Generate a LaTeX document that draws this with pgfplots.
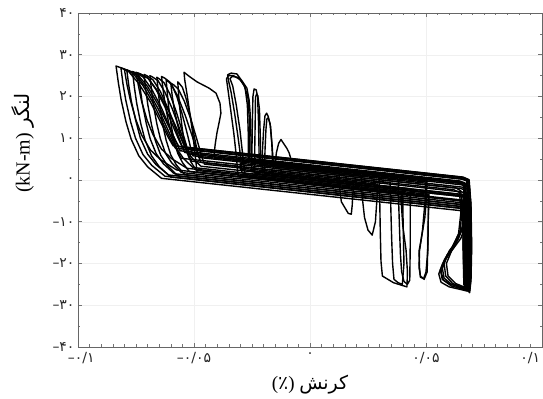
\documentclass[border=0pt]{standalone}
\usepackage{fontspec}
\setmainfont{Liberation Serif}
\newfontfamily\fa[Script=Arabic]{DejaVu Sans}
\newfontfamily\fadig{DejaVu Sans}
\TeXXeTstate=1
\usepackage{pgfplots}
\pgfplotsset{compat=1.18}

\begin{document}
\begin{tikzpicture}
\begin{axis}[
  scale only axis, width=464bp, height=334bp,
  xmin=-0.1, xmax=0.1, ymin=-40, ymax=40,
  xtick={-0.1,-0.05,0,0.05,0.1},
  xticklabels={{\makebox[0pt][l]{\hspace*{-10bp}–۰/۱}},–۰/۰۵,۰,۰/۰۵,{\makebox[0pt][r]{۰/۱\hspace{2bp}}}},
  ytick={-40,-30,...,40},
  yticklabels={–۴۰,–۳۰,–۲۰,–۱۰,۰,۱۰,۲۰,۳۰,۴۰},
  minor x tick num=9, minor y tick num=1,
  tick align=inside,
  major tick length=4bp, minor tick length=2.5bp,
  every tick/.style={black!55, line width=0.5bp},
  axis line style={black!60, line width=0.6bp},
  grid=major, major grid style={black!6, line width=0.4bp},
  ticklabel style={font=\fadig\fontsize{14}{14}\selectfont, text=black!85},
  xticklabel style={yshift=-2bp},
  xlabel={({\fa ٪}) {\fa\beginR کرنش\endR}},
  xlabel style={at={(axis description cs:0.5,-0.114)}, anchor=center, font=\fontsize{19}{19}\selectfont},
  ylabel={(kN-m) {\fa\beginR لنگر\endR}},
  ylabel style={at={(axis description cs:-0.118,0.61)}, anchor=center, font=\fontsize{20}{20}\selectfont},
  hy/.style={black, solid, mark=none, line width=1.4bp, line join=round, line cap=round},
]
\coordinate (bl) at (rel axis cs:0,0);
\coordinate (tr) at (rel axis cs:1,1);

% cycles peaking on the far left
\addplot[hy] coordinates {(-0.0640,0.4)(-0.0699,3.1)(-0.0738,5.8)(-0.0771,9.8)(-0.0793,13.9)(-0.0814,19.2)(-0.0826,23.3)(-0.0836,27.3)
(-0.0816,26.9)(-0.0782,26.0)(-0.0738,23.1)(-0.0688,18.7)(-0.0644,13.9)(-0.0610,10.1)(-0.0590,8.2)
(0.0660,0.70)(0.0684,0.1)(0.0692,-5)(0.0694,-15)(0.0692,-23)(0.0686,-26.8)(0.0676,-25.8)(0.0673,-18)(0.0672,-10)(0.0668,-7.45)
(-0.0640,0.4)};
\addplot[hy] coordinates {(-0.0625,0.9)(-0.0682,3.5)(-0.0720,6.1)(-0.0752,10.0)(-0.0773,13.9)(-0.0794,19.1)(-0.0806,23.0)(-0.0815,26.9)
(-0.0796,26.5)(-0.0763,25.5)(-0.0721,22.7)(-0.0674,18.2)(-0.0632,13.4)(-0.0599,9.5)(-0.0580,7.6)
(0.0655,0.19)(0.0678,-0.3)(0.0686,-6)(0.0688,-16)(0.0684,-24)(0.0678,-26.3)(0.0668,-25)(0.0665,-17)(0.0664,-9)(0.0660,-6.81)
(-0.0625,0.9)};
\addplot[hy] coordinates {(-0.0610,1.2)(-0.0664,3.7)(-0.0700,6.2)(-0.0731,10.0)(-0.0750,14.0)(-0.0770,18.8)(-0.0781,22.6)(-0.0790,26.4)
(-0.0772,26.0)(-0.0741,25.1)(-0.0700,22.4)(-0.0655,18.1)(-0.0615,13.5)(-0.0583,9.8)(-0.0565,8.0)
(0.0650,0.71)(0.0675,0.2)(0.0682,-5)(0.0683,-15)(0.0680,-23)(0.0674,-26.0)(0.0664,-24.5)(0.0660,-16)(0.0658,-8.5)(0.0654,-6.38)
(-0.0610,1.2)};
\addplot[hy] coordinates {(-0.0600,0.7)(-0.0650,3.2)(-0.0683,5.8)(-0.0711,9.6)(-0.0729,13.4)(-0.0747,18.4)(-0.0757,22.2)(-0.0765,26.0)
(-0.0749,25.6)(-0.0720,24.7)(-0.0683,21.8)(-0.0642,17.5)(-0.0605,12.7)(-0.0576,8.9)(-0.0560,7.0)
(0.0645,-0.23)(0.0668,-0.7)(0.0672,-4)(0.0665,-10)(0.0640,-14)(0.0600,-17)(0.0578,-20)(0.0585,-23)(0.0615,-24.8)(0.0665,-25.9)(0.0685,-26.2)(0.0688,-20)(0.0688,-10)(0.0684,-7.0)
(-0.0600,0.7)};
\addplot[hy] coordinates {(-0.0585,1.5)(-0.0632,3.9)(-0.0663,6.3)(-0.0689,9.9)(-0.0706,13.6)(-0.0723,18.4)(-0.0732,22.0)(-0.0740,25.6)
(-0.0725,25.2)(-0.0698,24.4)(-0.0664,21.7)(-0.0626,17.6)(-0.0592,13.1)(-0.0565,9.6)(-0.0550,7.8)
(0.0660,0.54)(0.0686,0.0)(0.0694,-6)(0.0697,-16)(0.0694,-24)(0.0688,-27.0)(0.0678,-25.8)(0.0675,-17)(0.0674,-9)(0.0670,-6.0)
(-0.0585,1.5)};
\addplot[hy] coordinates {(-0.0570,1.0)(-0.0614,3.4)(-0.0643,5.9)(-0.0667,9.5)(-0.0683,13.2)(-0.0699,18.0)(-0.0708,21.7)(-0.0715,25.3)
(-0.0701,24.9)(-0.0677,24.0)(-0.0645,21.2)(-0.0610,16.9)(-0.0579,12.2)(-0.0554,8.5)(-0.0540,6.6)
(0.0640,-0.48)(0.0664,-1.0)(0.0668,-4)(0.0660,-11)(0.0630,-15)(0.0590,-18)(0.0570,-21)(0.0578,-23.5)(0.0610,-25.0)(0.0660,-26.0)(0.0682,-26.5)(0.0684,-20)(0.0684,-10)(0.0680,-6.5)
(-0.0570,1.0)};
\addplot[hy] coordinates {(-0.0555,1.8)(-0.0596,4.1)(-0.0623,6.4)(-0.0645,9.9)(-0.0660,13.4)(-0.0675,18.0)(-0.0683,21.5)(-0.0690,25.0)
(-0.0677,24.6)(-0.0655,23.8)(-0.0626,21.1)(-0.0594,17.1)(-0.0565,12.7)(-0.0543,9.2)(-0.0530,7.4)
(0.0655,0.29)(0.0680,-0.2)(0.0688,-6)(0.0690,-16)(0.0687,-24)(0.0681,-26.6)(0.0671,-25.5)(0.0668,-17)(0.0667,-9)(0.0663,-5.51)
(-0.0555,1.8)};
\addplot[hy] coordinates {(-0.0540,1.3)(-0.0576,3.6)(-0.0600,6.0)(-0.0620,9.5)(-0.0634,13.0)(-0.0647,17.6)(-0.0654,21.1)(-0.0660,24.6)
(-0.0649,24.2)(-0.0629,23.3)(-0.0604,20.6)(-0.0576,16.3)(-0.0551,11.7)(-0.0531,8.0)(-0.0520,6.2)
(0.0640,-0.76)(0.0662,-1.3)(0.0665,-5)(0.0655,-12)(0.0622,-16)(0.0585,-19)(0.0565,-22)(0.0575,-24)(0.0610,-25.4)(0.0665,-26.2)(0.0680,-26.6)(0.0680,-18)(0.0678,-9)(0.0675,-6.0)
(-0.0540,1.3)};
\addplot[hy] coordinates {(-0.0520,2.0)(-0.0550,4.2)(-0.0570,6.4)(-0.0587,9.7)(-0.0598,13.0)(-0.0609,17.4)(-0.0615,20.7)(-0.0620,24.0)
(-0.0611,23.6)(-0.0595,22.7)(-0.0574,20.0)(-0.0551,15.8)(-0.0530,11.3)(-0.0514,7.6)(-0.0505,5.8)
(0.0655,-1.16)(0.0678,-1.7)(0.0685,-7)(0.0688,-16)(0.0686,-24)(0.0680,-26.2)(0.0672,-25)(0.0669,-17)(0.0668,-9)(0.0665,-5.11)
(-0.0520,2.0)};
\addplot[hy] coordinates {(-0.0490,2.3)(-0.0514,4.4)(-0.0530,6.5)(-0.0544,9.7)(-0.0552,12.9)(-0.0561,17.1)(-0.0566,20.3)(-0.0570,23.5)
(-0.0563,23.1)(-0.0550,22.2)(-0.0534,19.5)(-0.0516,15.4)(-0.0500,10.8)(-0.0487,7.2)(-0.0480,5.4)
(0.0500,-0.48)(0.0496,-5)(0.0485,-12)(0.0472,-17)(0.0470,-21)(0.0476,-23)(0.0492,-23.8)(0.0505,-22)(0.0508,-15)(0.0510,-8)(0.0512,-3.71)
(-0.0490,2.3)};
\addplot[hy] coordinates {(-0.0575,2.4)(-0.0643,4.8)(-0.0688,7.2)(-0.0726,10.8)(-0.0751,14.5)(-0.0775,19.3)(-0.0789,22.9)(-0.0800,26.5)
(-0.0780,26.1)(-0.0746,25.0)(-0.0702,21.8)(-0.0653,16.9)(-0.0609,11.6)(-0.0575,7.3)(-0.0555,5.2)
(0.0650,-2.03)(0.0672,-2.5)(0.0680,-8)(0.0682,-17)(0.0679,-24)(0.0673,-26.2)(0.0663,-25)(0.0660,-16)(0.0659,-8)(0.0655,-4.98)
(-0.0575,2.4)};
\addplot[hy] coordinates {(-0.0530,2.8)(-0.0596,5.1)(-0.0640,7.4)(-0.0677,10.9)(-0.0702,14.3)(-0.0726,18.9)(-0.0739,22.4)(-0.0750,25.8)
(-0.0731,25.4)(-0.0697,24.3)(-0.0654,21.1)(-0.0606,16.2)(-0.0563,10.9)(-0.0529,6.6)(-0.0510,4.5)
(0.0345,-0.63)(0.0348,-6)(0.0352,-14)(0.0356,-20)(0.0362,-23.8)(0.0380,-24.6)(0.0398,-25.0)(0.0405,-20)(0.0402,-12)(0.0400,-6)(0.0400,-2.78)
(-0.0530,2.8)};
\addplot[hy] coordinates {(-0.0505,3.0)(-0.0546,5.2)(-0.0573,7.4)(-0.0595,10.6)(-0.0610,13.9)(-0.0625,18.3)(-0.0633,21.5)(-0.0640,24.8)
(-0.0626,24.4)(-0.0603,23.4)(-0.0572,20.3)(-0.0538,15.5)(-0.0507,10.4)(-0.0484,6.3)(-0.0470,4.2)
(0.0620,-2.34)(0.0645,-3.0)(0.0650,-8)(0.0640,-13)(0.0605,-17)(0.0572,-20)(0.0555,-22.5)(0.0565,-24.5)(0.0600,-25.6)(0.0655,-26.3)(0.0676,-26.6)(0.0677,-18)(0.0675,-9)(0.0672,-4.06)
(-0.0505,3.0)};
\addplot[hy] coordinates {(-0.0470,3.3)(-0.0509,5.3)(-0.0535,7.3)(-0.0557,10.3)(-0.0571,13.3)(-0.0586,17.2)(-0.0594,20.2)(-0.0600,23.2)
(-0.0588,22.8)(-0.0568,21.8)(-0.0542,18.9)(-0.0513,14.5)(-0.0487,9.6)(-0.0467,5.7)(-0.0455,3.8)
(0.0655,-2.86)(0.0676,-3.4)(0.0684,-9)(0.0686,-17)(0.0683,-24)(0.0677,-26.4)(0.0667,-25)(0.0664,-16)(0.0663,-8)(0.0660,-3.48)
(-0.0470,3.3)};

% cycles with intermediate peaks
\addplot[hy] coordinates {(-0.0487,1.9)(-0.0495,6)(-0.0505,11)(-0.0518,16)(-0.0530,20.5)(-0.0540,24)(-0.0543,25.8)(-0.0520,24.8)(-0.0487,23.5)(-0.0435,22.0)(-0.0405,20.8)(-0.0388,18.4)(-0.0384,16.0)(-0.0392,13.7)(-0.0401,11.3)(-0.0409,8.4)(-0.0414,5.5)
(0.0297,1.24)(0.0300,-3)(0.0303,-12.5)(0.0306,-19.5)(0.0312,-23.0)(0.0330,-23.6)(0.0360,-24.6)(0.0400,-25.3)(0.0418,-25.6)(0.0420,-22)(0.0414,-16.8)(0.0400,-11)(0.0394,-6)(0.0394,-3.4)
(-0.0487,1.9)};
\addplot[hy] coordinates {(-0.0293,1.7)(-0.0300,6)(-0.0312,11)(-0.0325,16)(-0.0340,21)(-0.0352,24)(-0.0355,25.2)(-0.0340,25.6)(-0.0315,25.4)(-0.0290,23.5)(-0.0272,22.0)(-0.0262,19)(-0.0256,14.4)(-0.0254,9)(-0.0254,4.8)
(0.0655,-0.65)(0.0680,-1.2)(0.0688,-7)(0.0690,-17)(0.0687,-24.5)(0.0681,-26.5)(0.0671,-25)(0.0668,-16)(0.0666,-8)(0.0662,-4.0)
(-0.0293,1.7)};
\addplot[hy] coordinates {(-0.0280,1.3)(-0.0290,6)(-0.0302,12)(-0.0318,18)(-0.0333,22.5)(-0.0345,24.3)(-0.0335,24.8)(-0.0310,24.6)(-0.0285,22.8)(-0.0268,20)(-0.0262,15)(-0.0260,8)(-0.0262,4.5)
(0.0504,-0.09)(0.0502,-4)(0.0495,-9)(0.0480,-14)(0.0470,-17)(0.0472,-21)(0.0476,-23.3)(0.0490,-23.6)(0.0500,-22)(0.0508,-16.8)(0.0510,-9)(0.0513,-3.46)
(-0.0280,1.3)};
\addplot[hy] coordinates {(-0.0310,1.0)(-0.0318,6)(-0.0328,11)(-0.0340,16)(-0.0352,21)(-0.0360,24.2)(-0.0352,25.0)(-0.0330,25.0)(-0.0300,24.0)(-0.0280,22.2)(-0.0270,18)(-0.0266,11)(-0.0266,5.0)
(0.0650,-0.5)(0.0676,-1.0)(0.0681,-5)(0.0676,-10)(0.0650,-14)(0.0610,-17)(0.0588,-20)(0.0595,-23)(0.0628,-24.8)(0.0672,-25.8)(0.0688,-26.4)(0.0690,-18)(0.0688,-9)(0.0685,-4.97)
(-0.0310,1.0)};
\addplot[hy] coordinates {(-0.0252,2.0)(-0.0250,8)(-0.0248,15)(-0.0246,20)(-0.0241,21.8)(-0.0232,21.6)(-0.0226,20)(-0.0222,14)(-0.0220,8)(-0.0219,3.8)
(0.0380,0.2)(0.0382,-5)(0.0386,-12)(0.0390,-18)(0.0395,-22)(0.0405,-24.3)(0.0420,-25.0)(0.0430,-24)(0.0432,-16)(0.0432,-8)(0.0433,-2.1)
(-0.0252,2.0)};
\addplot[hy] coordinates {(-0.0238,1.6)(-0.0238,8)(-0.0236,15)(-0.0235,19.8)(-0.0230,20.6)(-0.0225,20.2)(-0.0218,17)(-0.0214,10)(-0.0212,3.5)
(0.0655,-1.70)(0.0678,-2.2)(0.0684,-8)(0.0686,-17)(0.0683,-24)(0.0677,-26.0)(0.0668,-24.5)(0.0665,-16)(0.0664,-8)(0.0660,-3.8)
(-0.0238,1.6)};
\addplot[hy] coordinates {(-0.0207,2.0)(-0.0205,7)(-0.0200,12)(-0.0194,15.4)(-0.0187,16.0)(-0.0180,15.2)(-0.0170,12.8)(-0.0163,8)(-0.0158,3.6)
(0.0125,1.9)(0.0128,-2)(0.0135,-5.2)(0.0150,-6.6)(0.0165,-8.0)(0.0178,-8.2)(0.0182,-6)(0.0185,-3)(0.0188,-0.4)
(-0.0207,2.0)};
\addplot[hy] coordinates {(-0.0196,1.6)(-0.0194,7)(-0.0190,12)(-0.0186,14.6)(-0.0180,14.9)(-0.0172,13.5)(-0.0165,9)(-0.0160,4)(-0.0158,2.8)
(0.0630,-1.93)(0.0650,-2.6)(0.0655,-7)(0.0648,-12)(0.0615,-16)(0.0580,-19)(0.0562,-21.5)(0.0570,-23.8)(0.0605,-25.0)(0.0660,-25.7)(0.0678,-26.0)(0.0679,-18)(0.0677,-9)(0.0674,-3.6)
(-0.0196,1.6)};
\addplot[hy] coordinates {(-0.0150,4.0)(-0.0145,6.5)(-0.0135,8.8)(-0.0125,9.7)(-0.0112,8.6)(-0.0100,7.6)(-0.0090,6.5)(-0.0082,5.0)
(0.0660,0.55)(0.0685,0.0)(0.0693,-6)(0.0696,-16)(0.0693,-24)(0.0687,-26.9)(0.0677,-25.5)(0.0674,-17)(0.0673,-9)(0.0669,-0.9)
(-0.0150,4.0)};
\addplot[hy] coordinates {(-0.0300,4.0)(0.0220,0.88)(0.0225,-4)(0.0235,-9)(0.0250,-12)(0.0268,-13.2)(0.0282,-10)(0.0288,-5)(0.0292,-1.0)
(-0.0300,2.55)(-0.0300,4.0)};
\end{axis}
\pgfresetboundingbox
\path ([shift={(-78bp,-52bp)}]bl) rectangle ([shift={(1bp,13bp)}]tr);
\end{tikzpicture}
\end{document}
